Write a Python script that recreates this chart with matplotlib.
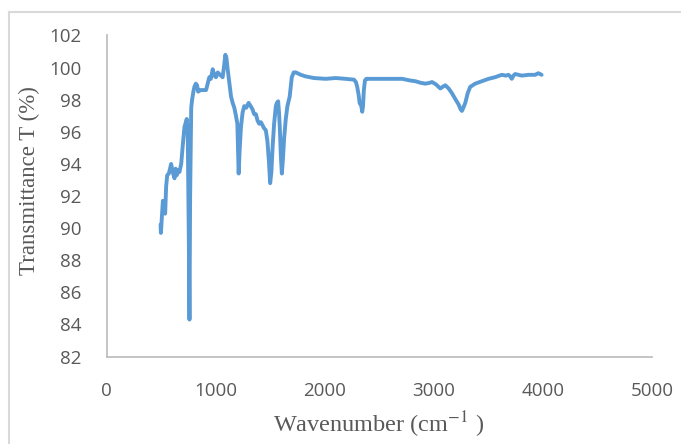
import numpy as np
import matplotlib
matplotlib.use("Agg")
import matplotlib.pyplot as plt
from matplotlib.lines import Line2D

# ── Data ─────────────────────────────────────────────────────────────────────
wavenumber = [
    494, 497, 515, 525, 536, 545, 555, 570, 591, 605, 622, 632, 643, 655, 667,
    683, 698, 713, 725, 734, 743, 752, 759, 765, 775, 783, 795, 804, 817, 829,
    838, 860, 885, 911, 926, 941, 955, 972, 987, 1002, 1018, 1032, 1048, 1063,
    1078, 1088, 1098, 1109, 1125, 1140, 1155, 1170, 1185, 1198, 1210, 1220,
    1231, 1246, 1261, 1280, 1301, 1320, 1337, 1352, 1368, 1383, 1398, 1414,
    1429, 1445, 1459, 1474, 1487, 1499, 1510, 1520, 1535, 1551, 1560, 1572,
    1580, 1587, 1597, 1606, 1615, 1627, 1642, 1657, 1678, 1697, 1715, 1734,
    1780, 1825, 1900, 2008, 2100, 2190, 2267, 2285, 2297, 2310, 2319, 2335,
    2343, 2350, 2358, 2368, 2380, 2500, 2600, 2709, 2780, 2831, 2880, 2922,
    2960, 2983, 3020, 3059, 3080, 3105, 3135, 3166, 3200, 3227, 3245, 3257,
    3270, 3288, 3310, 3333, 3379, 3440, 3501, 3560, 3623, 3660, 3684, 3700,
    3714, 3730, 3745, 3806, 3867, 3928, 3958, 3988,
]
transmittance = [
    90.2, 89.7, 91.7, 91.3, 90.9, 92.6, 93.3, 93.4, 94.0, 93.5, 93.1, 93.7,
    93.3, 93.6, 93.5, 94.0, 95.2, 96.3, 96.6, 96.8, 96.0, 90.0, 84.3, 92.0,
    97.5, 98.0, 98.5, 98.8, 99.0, 98.9, 98.5, 98.6, 98.6, 98.6, 99.0, 99.4,
    99.3, 99.9, 99.5, 99.4, 99.7, 99.6, 99.5, 99.4, 100.2, 100.8, 100.6, 99.9,
    99.0, 98.2, 97.8, 97.5, 97.0, 96.5, 93.4, 95.0, 96.3, 97.2, 97.6, 97.5,
    97.8, 97.6, 97.4, 97.1, 97.1, 96.7, 96.5, 96.6, 96.4, 96.2, 96.1, 95.4,
    94.2, 92.8, 93.5, 94.9, 96.5, 97.6, 97.8, 97.9, 97.2, 96.3, 94.5, 93.4,
    94.2, 95.6, 96.8, 97.6, 98.2, 99.4, 99.7, 99.7, 99.55, 99.45, 99.35, 99.3,
    99.35, 99.3, 99.25, 99.1, 98.8, 98.3, 97.8, 97.6, 97.25, 97.6, 98.6, 99.2,
    99.3, 99.3, 99.3, 99.3, 99.2, 99.15, 99.05, 99.0, 99.05, 99.1, 98.95,
    98.7, 98.8, 98.9, 98.7, 98.4, 98.0, 97.7, 97.4, 97.3, 97.5, 97.8, 98.4,
    98.8, 99.0, 99.15, 99.3, 99.4, 99.55, 99.5, 99.55, 99.45, 99.3, 99.5,
    99.6, 99.5, 99.55, 99.55, 99.65, 99.55,
]
x_ticks = [0, 1000, 2000, 3000, 4000, 5000]
y_ticks = [82, 84, 86, 88, 90, 92, 94, 96, 98, 100, 102]

LINE_COLOR = "#5B9BD5"
TEXT_GRAY = "#595959"
AXIS_GRAY = "#BFBFBF"
BORDER_GRAY = "#D9D9D9"

W, H = 681, 444
fig = plt.figure(figsize=(W / 100, H / 100), dpi=100)

# axes box in pixels: left 106.7, right 652, top 35.5, bottom 356.5
ax = fig.add_axes([106.7 / W, (H - 356.5) / H, (652 - 106.7) / W, (356.5 - 35.5) / H])
ax.plot(wavenumber, transmittance, color=LINE_COLOR, linewidth=2.8,
        solid_joinstyle="round", solid_capstyle="round")

ax.set_xlim(0, 5000)
ax.set_ylim(82, 102)
ax.set_xticks(x_ticks)
ax.set_yticks(y_ticks)
ax.tick_params(length=0, labelsize=13.5, labelcolor=TEXT_GRAY)
ax.tick_params(axis="x", pad=18)
ax.tick_params(axis="y", pad=18)
for lbl in ax.get_xticklabels() + ax.get_yticklabels():
    lbl.set_fontfamily("Open Sans")

for side in ("top", "right"):
    ax.spines[side].set_visible(False)
for side in ("left", "bottom"):
    ax.spines[side].set_color(AXIS_GRAY)
    ax.spines[side].set_linewidth(1.3)

# axis titles (serif, as in the original)
plt.rcParams["mathtext.fontset"] = "stix"
fig.text(379 / W, 1 - 425 / H, "Wavenumber (cm$^{-1}$ )", ha="center", va="center",
         fontsize=17.5, family="Liberation Serif", color=TEXT_GRAY)
fig.text(29 / W, 1 - 181 / H, "Transmittance T (%)", ha="center", va="center",
         rotation=90, fontsize=16.5, family="Liberation Serif", color=TEXT_GRAY)

# chart frame (only top and left edges visible in the crop)
fig.add_artist(Line2D([9 / W, 9 / W], [0, 1 - 12 / H], transform=fig.transFigure,
                      color=BORDER_GRAY, linewidth=1.5))
fig.add_artist(Line2D([9 / W, 1], [1 - 12 / H, 1 - 12 / H], transform=fig.transFigure,
                      color=BORDER_GRAY, linewidth=1.5))

fig.savefig("out.png", dpi=100)
